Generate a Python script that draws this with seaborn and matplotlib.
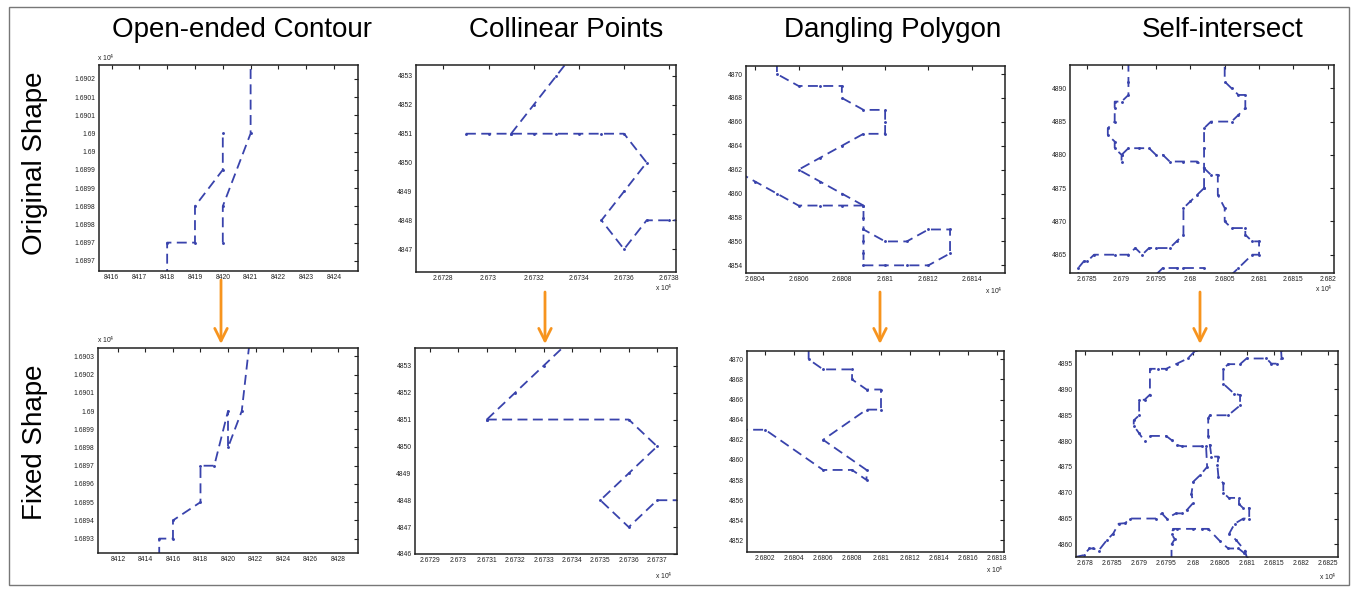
import matplotlib
matplotlib.use("Agg")
import matplotlib.pyplot as plt
import seaborn as sns
from matplotlib.patches import Rectangle

sns.set_style("white")
plt.rcParams['font.family'] = ['Liberation Sans', 'DejaVu Sans']

# ---------------- data ----------------
# Panel 1 (Open-ended Contour), original
p1o_a_x = [8418, 8418, 8419, 8419, 8420, 8420]
p1o_a_y = [16896.0, 16897, 16897, 16898, 16899, 16900]
p1o_b_x = [8420, 8420, 8421, 8421]
p1o_b_y = [16897, 16898, 16900, 16902.5]
# Panel 1, fixed
p1f_x = [8415, 8415, 8416, 8416, 8418, 8418, 8419, 8420, 8420, 8421, 8421.6]
p1f_y = [16892, 16893, 16893, 16894, 16895, 16897, 16897, 16900, 16898, 16900, 16904]

# Panel 2 (Collinear Points), original
p2o_a_x = [26729, 26730, 26731, 26732, 26733, 26734, 26735, 26736, 26737, 26736, 26735, 26736, 26737, 26738, 26739]
p2o_a_y = [4851, 4851, 4851, 4851, 4851, 4851, 4851, 4851, 4850, 4849, 4848, 4847, 4848, 4848, 4848]
p2o_b_x = [26731, 26732, 26733, 26734]
p2o_b_y = [4851, 4852, 4853, 4854]
# Panel 2, fixed
p2f_a_x = [26731, 26736, 26737, 26736, 26735, 26736, 26737, 26738]
p2f_a_y = [4851, 4851, 4850, 4849, 4848, 4847, 4848, 4848]
p2f_b_x = [26731, 26732, 26733, 26734]
p2f_b_y = [4851, 4852, 4853, 4854]

# Panel 3 (Dangling Polygon), original
p3o_a_x = [26805, 26805, 26806, 26807, 26808, 26808, 26809, 26810, 26810, 26810, 26809, 26808, 26807, 26806,
           26807, 26808, 26809, 26809, 26809, 26810, 26811, 26812, 26813, 26813, 26812, 26811, 26810, 26809,
           26809, 26809, 26809]
p3o_a_y = [4871, 4870, 4869, 4869, 4869, 4868, 4867, 4867, 4866, 4865, 4865, 4864, 4863, 4862,
           4861, 4860, 4859, 4858, 4857, 4856, 4856, 4857, 4857, 4855, 4854, 4854, 4854, 4854,
           4855, 4856, 4857]
p3o_b_x = [26809, 26808, 26807, 26806, 26805, 26804, 26803]
p3o_b_y = [4859, 4859, 4859, 4859, 4860, 4861, 4862]
# Panel 3, fixed
p3f_x = [26805, 26805, 26806, 26808, 26808, 26809, 26810, 26810, 26809, 26806, 26809, 26809, 26808,
         26806, 26802, 26800]
p3f_y = [4871, 4870, 4869, 4869, 4868, 4867, 4867, 4865, 4865, 4862, 4859, 4858, 4859,
         4859, 4863, 4863]

# Panel 4 (Self-intersect), original
p4o_a_x = [26791, 26791, 26791, 26790, 26789, 26789, 26789, 26788, 26788, 26789, 26789, 26790, 26790]
p4o_a_y = [4894, 4891, 4889, 4888, 4888, 4887, 4885, 4884, 4883, 4882, 4881, 4880, 4879]
p4o_b_x = [26790, 26791, 26792.5, 26794, 26795, 26796, 26797, 26799, 26801, 26802, 26803, 26804, 26804,
           26805, 26805, 26806, 26808, 26808, 26809, 26810, 26810, 26809, 26807, 26806]
p4o_b_y = [4880, 4881, 4881, 4881, 4880, 4880, 4879, 4879, 4879, 4878, 4877, 4877, 4874,
           4872, 4870, 4869, 4869, 4868, 4867, 4867, 4865, 4865, 4863, 4862]
p4o_c_x = [26802, 26802, 26802, 26802, 26803, 26806, 26807, 26808, 26808, 26807, 26806, 26805, 26805]
p4o_c_y = [4875, 4878, 4881, 4884, 4885, 4885, 4886, 4887, 4889, 4889, 4890, 4891, 4894]
p4o_d_x = [26802, 26801, 26800, 26799, 26799, 26798, 26797, 26795, 26794, 26793, 26792, 26791, 26789,
           26786, 26785, 26784.5, 26783.7, 26783.7]
p4o_d_y = [4875, 4874, 4873, 4872, 4868, 4867, 4866, 4866, 4866, 4865, 4866, 4865, 4865,
           4865, 4864, 4864, 4863, 4862]
p4o_e_x = [26795, 26796, 26798, 26799, 26802]
p4o_e_y = [4862, 4863, 4863, 4863, 4863]
# Panel 4, fixed
p4f_a_x = [26800.5, 26799, 26797, 26795, 26793.5, 26792, 26792, 26791, 26790, 26790, 26789, 26789, 26790, 26791]
p4f_a_y = [4897.6, 4896, 4895, 4894, 4894, 4894, 4889, 4888, 4888, 4885, 4884, 4883, 4881.5, 4880]
p4f_b_x = [26792, 26795, 26796, 26797, 26798, 26801.6, 26802.4, 26802.6, 26801.3, 26800, 26799.7, 26800,
           26798.8, 26798, 26796.8, 26795.1, 26794.2, 26793.1, 26788.3, 26787.4, 26786.2, 26785.2,
           26784, 26782.5, 26781.5, 26780.8, 26779.7, 26778]
p4f_b_y = [4881, 4881, 4880.2, 4879.2, 4879, 4879, 4879, 4875, 4873.4, 4872.1, 4869.8, 4868,
           4866.6, 4866, 4866, 4865, 4866, 4865, 4865, 4864.1, 4864, 4862.1,
           4860.8, 4858.8, 4859.2, 4859.2, 4857.9, 4857.5]
p4f_c_x = [26816.3, 26816.4, 26815.5, 26814.5, 26813.6, 26809.9, 26808.7, 26806.5, 26805.6, 26805.6,
           26807.6, 26808.7, 26808.7, 26806.5, 26803.1, 26802.8, 26802.8, 26803.1, 26803.4, 26804.7,
           26804.5, 26804.7, 26805.6, 26805.6, 26806.6, 26808.5, 26808.5, 26809.3, 26810.4, 26810.4,
           26809.3, 26807.7, 26806.7, 26808, 26809.6, 26810]
p4f_c_y = [4897.6, 4896, 4895, 4895, 4896, 4896, 4894.9, 4894.9, 4894, 4891.1,
           4889.2, 4888.9, 4886.9, 4885, 4885, 4884.4, 4881, 4879.3, 4877, 4877,
           4875.3, 4873, 4871.8, 4870, 4869, 4869, 4867.8, 4867, 4867, 4865,
           4865, 4864, 4862.1, 4860.8, 4858.8, 4857.3]
p4f_d_x = [26796, 26796, 26796.6, 26796, 26796.3, 26797, 26800, 26801.6, 26802.8, 26805, 26806.5, 26808.4, 26809.5]
p4f_d_y = [4857, 4860, 4861, 4862, 4863, 4863, 4863, 4863, 4863, 4860.6, 4859.2, 4859.2, 4858.3]

# tick values / labels
p1o_xticks = [8416, 8417, 8418, 8419, 8420, 8421, 8422, 8423, 8424]
p1o_yticks = [16896.5, 16897, 16897.5, 16898, 16898.5, 16899, 16899.5, 16900, 16900.5, 16901, 16901.5]
p1o_ylabels = ['1.6897', '1.6897', '1.6898', '1.6898', '1.6899', '1.6899', '1.69', '1.69', '1.6901', '1.6901', '1.6902']
p1f_xticks = [8412, 8414, 8416, 8418, 8420, 8422, 8424, 8426, 8428]
p1f_yticks = [16893, 16894, 16895, 16896, 16897, 16898, 16899, 16900, 16901, 16902, 16903]
p1f_ylabels = ['1.6893', '1.6894', '1.6895', '1.6896', '1.6897', '1.6898', '1.6899', '1.69', '1.6901', '1.6902', '1.6903']
p2o_xticks = [26728, 26730, 26732, 26734, 26736, 26738]
p2o_xlabels = ['2.6728', '2.673', '2.6732', '2.6734', '2.6736', '2.6738']
p2o_yticks = [4847, 4848, 4849, 4850, 4851, 4852, 4853]
p2f_xticks = [26729, 26730, 26731, 26732, 26733, 26734, 26735, 26736, 26737]
p2f_xlabels = ['2.6729', '2.673', '2.6731', '2.6732', '2.6733', '2.6734', '2.6735', '2.6736', '2.6737']
p2f_yticks = [4846, 4847, 4848, 4849, 4850, 4851, 4852, 4853]
p3o_xticks = [26804, 26806, 26808, 26810, 26812, 26814]
p3o_xlabels = ['2.6804', '2.6806', '2.6808', '2.681', '2.6812', '2.6814']
p3o_yticks = [4854, 4856, 4858, 4860, 4862, 4864, 4866, 4868, 4870]
p3f_xticks = [26802, 26804, 26806, 26808, 26810, 26812, 26814, 26816, 26818]
p3f_xlabels = ['2.6802', '2.6804', '2.6806', '2.6808', '2.681', '2.6812', '2.6814', '2.6816', '2.6818']
p3f_yticks = [4852, 4854, 4856, 4858, 4860, 4862, 4864, 4866, 4868, 4870]
p4o_xticks = [26785, 26790, 26795, 26800, 26805, 26810, 26815, 26820]
p4o_xlabels = ['2.6785', '2.679', '2.6795', '2.68', '2.6805', '2.681', '2.6815', '2.682']
p4o_yticks = [4865, 4870, 4875, 4880, 4885, 4890]
p4f_xticks = [26780, 26785, 26790, 26795, 26800, 26805, 26810, 26815, 26820, 26825]
p4f_xlabels = ['2.678', '2.6785', '2.679', '2.6795', '2.68', '2.6805', '2.681', '2.6815', '2.682', '2.6825']
p4f_yticks = [4860, 4865, 4870, 4875, 4880, 4885, 4890, 4895]

col_titles = ['Open-ended Contour', 'Collinear Points', 'Dangling Polygon', 'Self-intersect']
row_titles = ['Original Shape', 'Fixed Shape']
exp_label = r'x 10$^4$'

# ---------------- figure ----------------
W, H = 1355, 589
fig = plt.figure(figsize=(W / 100, H / 100), dpi=100)
fig.patch.set_facecolor('white')

BLUE = '#3943ac'
ORANGE = '#f7941e'
TICK_FS = 4.9
TICK_COL = '#222222'


def add_ax(l, t, r, b):
    return fig.add_axes([l / W, 1 - b / H, (r - l) / W, (b - t) / H])


def style(ax, xlim, ylim, xt, yt, xl=None, yl=None):
    ax.set_xlim(*xlim)
    ax.set_ylim(*ylim)
    ax.set_xticks(xt)
    ax.set_yticks(yt)
    ax.set_xticklabels(xl if xl is not None else [str(v) for v in xt])
    ax.set_yticklabels(yl if yl is not None else [str(v) for v in yt])
    ax.tick_params(direction='in', length=3, width=0.8, labelsize=TICK_FS, top=True, right=True,
                   pad=2.5, labelcolor=TICK_COL, color='#222222')
    for s in ax.spines.values():
        s.set_linewidth(1.1)
        s.set_color('#222222')
        s.set_visible(True)
    ax.set_xlabel('')
    ax.set_ylabel('')
    ax.set_facecolor('white')


def draw(ax, xs, ys):
    sns.lineplot(x=xs, y=ys, ax=ax, sort=False, estimator=None, errorbar=None, color=BLUE,
                 linestyle=(0, (5.5, 3)), lw=1.3, marker='.', markersize=4.2,
                 markeredgewidth=0, markeredgecolor=BLUE, legend=False)


def ptext(x, y, s, **kw):
    fig.text(x / W, 1 - y / H, s, **kw)


# Panel 1
ax = add_ax(99, 65, 358, 271)
draw(ax, p1o_a_x, p1o_a_y)
draw(ax, p1o_b_x, p1o_b_y)
style(ax, (8415.55, 8424.86), (16896.22, 16901.88), p1o_xticks, p1o_yticks, None, p1o_ylabels)
ptext(97, 58, exp_label, fontsize=TICK_FS, color=TICK_COL, ha='left', va='center')

ax = add_ax(98, 348, 358, 553)
draw(ax, p1f_x, p1f_y)
style(ax, (8410.55, 8429.45), (16892.21, 16903.46), p1f_xticks, p1f_yticks, None, p1f_ylabels)
ptext(97, 340, exp_label, fontsize=TICK_FS, color=TICK_COL, ha='left', va='center')

# Panel 2
ax = add_ax(416, 65, 676, 272)
draw(ax, p2o_a_x, p2o_a_y)
draw(ax, p2o_b_x, p2o_b_y)
style(ax, (26726.79, 26738.3), (4846.21, 4853.38), p2o_xticks, p2o_yticks, p2o_xlabels)
ptext(673, 288, exp_label, fontsize=TICK_FS, color=TICK_COL, ha='right', va='center')

ax = add_ax(415, 348, 677, 554)
draw(ax, p2f_a_x, p2f_a_y)
draw(ax, p2f_b_x, p2f_b_y)
style(ax, (26728.47, 26737.7), (4846.0, 4853.66), p2f_xticks, p2f_yticks, p2f_xlabels)
ptext(673, 576, exp_label, fontsize=TICK_FS, color=TICK_COL, ha='right', va='center')

# Panel 3
ax = add_ax(746, 66, 1005, 273)
draw(ax, p3o_a_x, p3o_a_y)
draw(ax, p3o_b_x, p3o_b_y)
style(ax, (26803.57, 26815.54), (4853.36, 4870.67), p3o_xticks, p3o_yticks, p3o_xlabels)
ptext(1003, 291, exp_label, fontsize=TICK_FS, color=TICK_COL, ha='right', va='center')

ax = add_ax(747, 351, 1004, 552)
draw(ax, p3f_x, p3f_y)
style(ax, (26800.74, 26818.5), (4850.84, 4870.83), p3f_xticks, p3f_yticks, p3f_xlabels)
ptext(1004, 570, exp_label, fontsize=TICK_FS, color=TICK_COL, ha='right', va='center')

# Panel 4
ax = add_ax(1070, 65, 1334, 273)
for xs, ys in [(p4o_a_x, p4o_a_y), (p4o_b_x, p4o_b_y), (p4o_c_x, p4o_c_y),
               (p4o_d_x, p4o_d_y), (p4o_e_x, p4o_e_y)]:
    draw(ax, xs, ys)
style(ax, (26782.5, 26820.9), (4862.25, 4893.5), p4o_xticks, p4o_yticks, p4o_xlabels)
ptext(1333, 289, exp_label, fontsize=TICK_FS, color=TICK_COL, ha='right', va='center')

ax = add_ax(1076, 351, 1338, 557)
for xs, ys in [(p4f_a_x, p4f_a_y), (p4f_b_x, p4f_b_y), (p4f_c_x, p4f_c_y), (p4f_d_x, p4f_d_y)]:
    draw(ax, xs, ys)
style(ax, (26778.3, 26826.85), (4857.55, 4897.45), p4f_xticks, p4f_yticks, p4f_xlabels)
ptext(1337, 577, exp_label, fontsize=TICK_FS, color=TICK_COL, ha='right', va='center')

# ---------------- overlay: titles, arrows, frame ----------------
ov = fig.add_axes([0, 0, 1, 1], zorder=-1)
ov.set_xlim(0, W)
ov.set_ylim(H, 0)
ov.axis('off')
ov.add_patch(Rectangle((9, 7), 1340, 578, fill=False, edgecolor='#777777', lw=1.0))

for cx, t in zip([242, 566, 893, 1223], col_titles):
    ptext(cx, 30, t, fontsize=20, ha='center', va='center', color='black')
for cy, t in zip([163, 442], row_titles):
    ptext(35, cy, t, fontsize=20, ha='center', va='center', rotation=90, color='black')

ov2 = fig.add_axes([0, 0, 1, 1], zorder=5)
ov2.set_xlim(0, W)
ov2.set_ylim(H, 0)
ov2.axis('off')
ov2.patch.set_alpha(0)
for ax_x, y0 in [(221, 280), (545, 292), (880, 292), (1200, 292)]:
    ov2.annotate('', xy=(ax_x, 344), xytext=(ax_x, y0),
                 arrowprops=dict(arrowstyle='->,head_length=0.9,head_width=0.45', color=ORANGE,
                                 lw=2.0, shrinkA=0, shrinkB=0))

fig.savefig('out.png', dpi=100)
